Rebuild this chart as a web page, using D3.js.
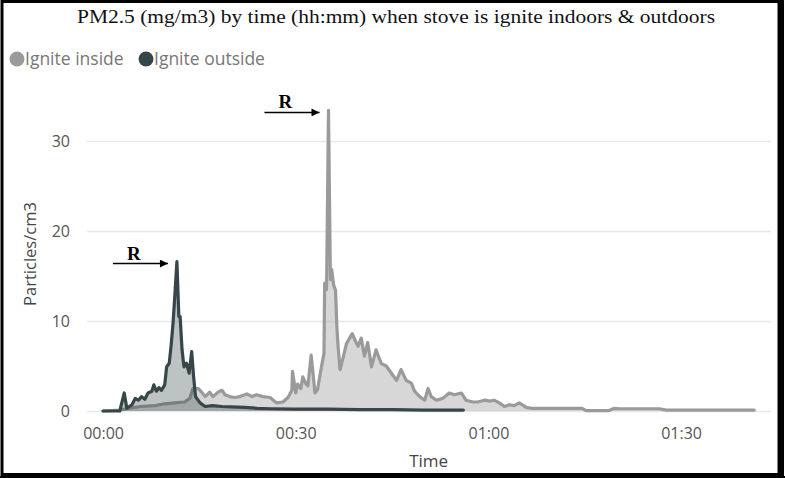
<!DOCTYPE html>
<html>
<head>
<meta charset="utf-8">
<script src="https://cdn.jsdelivr.net/npm/d3@7"></script>
<style>
  html, body { margin: 0; padding: 0; background: #fff; }
  svg { display: block; }
</style>
</head>
<body>
<svg id="chart" width="785" height="478"></svg>
<script>
// PM2.5 readings, time in minutes since the stove was lit
const insideTimes = [0, 2.6, 3.9, 5.8, 8.1, 9.6, 11.2, 12.7, 13.5, 14.0, 14.8,
  15.1, 15.9, 16.6, 17.1, 17.9, 18.5, 19.0, 19.7, 20.5, 21.3, 22.4, 23.2, 23.9, 24.9, 26.0,
  27.0, 28.0, 28.8, 29.4, 29.5, 30.0, 30.3, 30.8, 31.1, 31.6, 31.9, 32.4, 33.0, 33.4, 34.0,
  34.4, 34.5, 34.8, 35.1, 35.4, 35.6, 35.9, 36.2, 36.4, 36.6, 36.9, 37.4, 37.9, 38.8, 39.4,
  39.7, 40.2, 40.7, 41.2, 41.8, 42.5, 43.3, 44.1, 44.9, 45.7, 46.4, 47.2, 48.0, 48.5, 49.3,
  50.1, 50.6, 51.1, 51.9, 52.9, 53.9, 54.7, 55.8, 56.5, 57.6, 58.3, 59.4, 60.2, 60.9, 61.7,
  62.5, 63.3, 64.0, 64.8, 65.9, 66.8, 68.7, 71.0, 74.6, 75.2, 78.8, 79.6, 80.4, 83.5, 86.6,
  87.7, 92.8, 97.5, 101.4];
const insideValues = [0, 0.1, 0.3, 0.5, 0.6, 0.8, 0.9, 1.0, 1.4, 2.5, 2.5,
  2.3, 1.6, 2.1, 1.6, 2.1, 2.3, 1.8, 1.6, 1.5, 1.6, 1.9, 1.6, 1.8, 1.6, 1.5,
  0.9, 1.0, 1.5, 2.3, 4.4, 2.0, 3.0, 2.5, 3.8, 3.0, 2.8, 6.2, 2.0, 2.4, 4.9,
  6.4, 14.2, 13.5, 33.4, 14.6, 15.7, 14.0, 13.4, 9.4, 7.1, 4.6, 6.0, 7.5, 8.6, 7.6,
  7.2, 8.1, 6.1, 7.6, 4.9, 6.8, 5.3, 5.0, 4.2, 3.4, 4.6, 3.4, 3.1, 2.2, 1.6,
  1.2, 2.5, 1.6, 1.2, 1.4, 2.0, 1.8, 2.0, 1.2, 1.0, 1.0, 1.2, 1.1, 1.2, 0.9,
  0.5, 0.7, 0.6, 0.9, 0.4, 0.3, 0.3, 0.3, 0.3, 0.05, 0.05, 0.3, 0.25, 0.25, 0.25,
  0.1, 0.1, 0.1, 0.1];

const outsideTimes = [0, 2.6, 3.3, 3.7, 4.5, 5.0, 5.5, 6.0, 6.5, 7.0, 7.6, 7.9, 8.3, 8.7, 9.1,
  9.6, 9.9, 10.3, 10.6, 10.9, 11.2, 11.5, 11.8, 12.0, 12.3, 12.6, 13.0, 13.4, 13.8, 14.1,
  14.4, 15.1, 15.9, 17.0, 18.5, 20.0, 22.0, 24.0, 26.0, 30.0, 35.0, 40.0, 45.0, 50.0, 56.1];
const outsideValues = [0, 0, 2.0, 0.3, 0.7, 1.4, 1.2, 1.6, 1.3, 2.0, 2.2, 2.9, 2.2, 2.6, 2.3,
  2.9, 4.9, 5.3, 7.3, 9.8, 13.1, 16.6, 10.5, 10.5, 6.8, 4.9, 5.3, 4.2, 6.6, 3.8,
  1.6, 0.9, 0.5, 0.6, 0.5, 0.45, 0.4, 0.3, 0.25, 0.2, 0.2, 0.15, 0.15, 0.1, 0.1];

const seriesNames = ["Ignite inside", "Ignite outside"];
const seriesColors = ["#9a9a9a", "#374649"];

const xTickValues = [0, 30, 60, 90];
const xTickLabels = ["00:00", "00:30", "01:00", "01:30"];
const yTickValues = [0, 10, 20, 30];

const titleText = "PM2.5 (mg/m3) by time (hh:mm) when stove is ignite indoors & outdoors";
const xAxisTitle = "Time";
const yAxisTitle = "Particles/cm3";
const markerLabel = "R";

const uiFont = "'Open Sans', 'Noto Sans', sans-serif";

const svg = d3.select("#chart");

const x = d3.scaleLinear().domain([-2.5, 104]).range([87, 771]);
const y = d3.scaleLinear().domain([0, 35]).range([411, 96]);

const inside = insideTimes.map((t, i) => ({ t, v: insideValues[i] }));
const outside = outsideTimes.map((t, i) => ({ t, v: outsideValues[i] }));

// Frame
svg.append("rect").attr("x", 2).attr("y", 1.5).attr("width", 777).attr("height", 473)
  .attr("fill", "none").attr("stroke", "#000").attr("stroke-width", 3);
svg.append("line").attr("x1", 781.5).attr("x2", 781.5).attr("y1", 0).attr("y2", 478)
  .attr("stroke", "#000").attr("stroke-width", 5);
svg.append("line").attr("x1", 0).attr("x2", 785).attr("y1", 477).attr("y2", 477)
  .attr("stroke", "#000").attr("stroke-width", 2);

// Title
svg.append("text").attr("x", 396).attr("y", 23).attr("text-anchor", "middle")
  .attr("font-family", "'Liberation Serif', 'DejaVu Serif', serif").attr("font-size", 18.5)
  .attr("fill", "#111").attr("textLength", 638).attr("lengthAdjust", "spacingAndGlyphs")
  .text(titleText);

// Legend
const legend = svg.append("g").attr("font-family", uiFont).attr("font-size", 17.5).attr("fill", "#777");
const legendX = [17, 146];
seriesNames.forEach((name, i) => {
  legend.append("circle").attr("cx", legendX[i]).attr("cy", 59).attr("r", 7.5).attr("fill", seriesColors[i]);
  legend.append("text").attr("x", legendX[i] + 8).attr("y", 65).text(name);
});

// Gridlines and y axis
const yAxis = d3.axisLeft(y).tickValues(yTickValues).tickSize(-(771 - 87)).tickPadding(17);
const gy = svg.append("g").attr("transform", "translate(87,0)").call(yAxis);
gy.select(".domain").remove();
gy.selectAll(".tick line").attr("stroke", "#e8e8e8").attr("stroke-width", 1.5);
gy.selectAll(".tick text").attr("font-family", uiFont).attr("font-size", 16).attr("fill", "#555");

// x axis
const xAxis = d3.axisBottom(x).tickValues(xTickValues)
  .tickFormat((d, i) => xTickLabels[i]).tickSize(0).tickPadding(17);
const gx = svg.append("g").attr("transform", "translate(0,411)").call(xAxis);
gx.select(".domain").remove();
gx.selectAll(".tick text").attr("font-family", uiFont).attr("font-size", 16).attr("fill", "#555");

// Axis titles
svg.append("text").attr("x", x(50.7)).attr("y", 467).attr("text-anchor", "middle")
  .attr("font-family", uiFont).attr("font-size", 17).attr("fill", "#444").text(xAxisTitle);
svg.append("text").attr("transform", "translate(36,254) rotate(-90)").attr("text-anchor", "middle")
  .attr("font-family", uiFont).attr("font-size", 16.5).attr("fill", "#444").text(yAxisTitle);

// Series
const area = d3.area().x(d => x(d.t)).y0(y(0)).y1(d => y(d.v));
const line = d3.line().x(d => x(d.t)).y(d => y(d.v));
const fillOpacity = [0.4, 0.33];

[inside, outside].forEach((data, i) => {
  svg.append("path").datum(data).attr("d", area)
    .attr("fill", seriesColors[i]).attr("fill-opacity", fillOpacity[i]);
  svg.append("path").datum(data).attr("d", line)
    .attr("fill", "none").attr("stroke", seriesColors[i]).attr("stroke-width", 3.2)
    .attr("stroke-linejoin", "round").attr("stroke-linecap", "round");
});

// Peak markers
const defs = svg.append("defs");
defs.append("marker").attr("id", "arrowHead").attr("viewBox", "0 0 10 10")
  .attr("refX", 10).attr("refY", 5).attr("markerWidth", 15).attr("markerHeight", 8)
  .attr("markerUnits", "userSpaceOnUse").attr("orient", "auto")
  .append("path").attr("d", "M0,0 L10,5 L0,10 Z").attr("fill", "#000");

function peakMarker(data) {
  const peak = data.reduce((a, b) => (b.v > a.v ? b : a));
  const tipX = x(peak.t) - 9, tipY = y(peak.v) + 2;
  svg.append("line").attr("x1", tipX - 55).attr("x2", tipX).attr("y1", tipY).attr("y2", tipY)
    .attr("stroke", "#000").attr("stroke-width", 1.5).attr("marker-end", "url(#arrowHead)");
  svg.append("text").attr("x", tipX - 34).attr("y", tipY - 4).attr("text-anchor", "middle")
    .attr("font-family", "'Liberation Serif', 'DejaVu Serif', serif").attr("font-weight", "bold")
    .attr("font-size", 19).attr("fill", "#000").text(markerLabel);
}
peakMarker(outside);
peakMarker(inside);
</script>
</body>
</html>
